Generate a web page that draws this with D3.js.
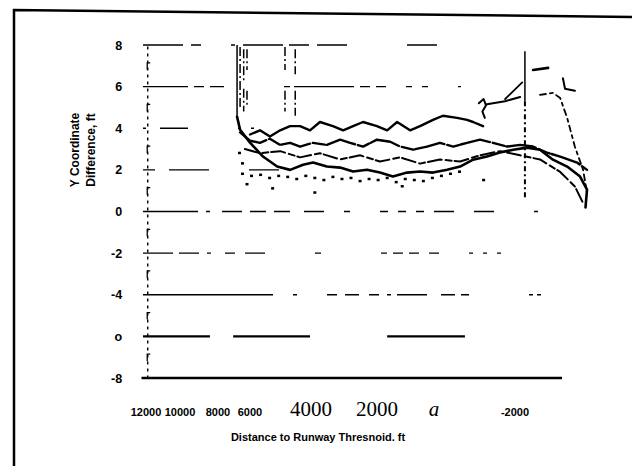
<!DOCTYPE html>
<html lang="en">
<head>
<meta charset="UTF-8" />
<title>Y coordinate difference vs distance to threshold</title>
<style>
  body { margin: 0; background: #fff; }
  svg { display: block; }
  .lbl { font-family: "Liberation Sans", Arial, sans-serif; font-weight: bold; fill: #000; }
  .serif { font-family: "Liberation Serif", "DejaVu Serif", serif; fill: #000; }
  .trace { fill: none; stroke: #000; stroke-linejoin: round; stroke-linecap: round; }
</style>
</head>
<body>
<svg width="632" height="466"></svg>
<script src="https://d3js.org/d3.v7.min.js"></script>
<script>
// y ticks and labels
const yTicks = [8, 6, 4, 2, 0, -2, -4, -6, -8];
const yTickText = ["8", "6", "4", "2", "0", "-2", "-4", "o", "-8"];
const yMinor = [7, 5, 3, 1, -1, -3, -5, -7];

// x tick labels (as printed)
const xTicks = [12000, 10000, 8000, 6000, 4000, 2000, 0, -2000];
const xTickText = ["12000", "10000", "8000", "6000", "4000", "2000", "a", "-2000"];

// traces: [distance ft, y diff ft]
const upper = [[8350,3.7],[8020,3.9],[7690,3.6],[7350,3.9],[7020,4.1],[6690,4.1],[6360,3.9],[6030,4.3],
  [5600,4.1],[5260,3.9],[4930,4.1],[4600,4.3],[4140,4.1],[3800,3.9],[3470,4.3],[3040,3.9],[2710,4.1],
  [2280,4.4],[1950,4.6],[1480,4.5],[1150,4.4],[950,4.3],[620,4.1]];
const curl = [[760,5.2],[600,5.4],[520,5.1],[640,4.8],[560,4.5]];
const riseA = [[490,5.15],[-110,5.3],[-610,5.5]];
const riseB = [[-110,5.4],[-680,6.2]];
const topBar = [[-1040,6.8],[-1540,6.9]];
const hook = [[-2030,6.4],[-2100,5.9],[-2430,5.8]];
const rightUpper = [[-1270,5.6],[-1700,5.7],[-1940,5.45],[-2170,4.5],[-2430,3.1],[-2700,2.0],[-2830,0.9]];

const second = [[8680,3.8],[8350,3.4],[8020,3.3],[7690,3.5],[7350,3.2],[7020,3.3],[6690,3.12],[6260,3.3],
  [5800,3.2],[5360,3.45],[5030,3.3],[4600,3.12],[4140,3.45],[3700,3.35],[3370,3.12],[2940,2.97],[2480,3.12],
  [2050,3.3],[1610,3.12],[1150,3.3],[720,3.45],[290,3.3],[-180,3.12],[-610,3.2],[-1040,3.12],[-1500,2.83],
  [-1940,2.64],[-2500,2.35],[-2830,2.0]];

const lower = [[8780,4.56],[8680,3.93],[8350,3.31],[7920,2.64],[7450,2.16],[7020,2.0],[6590,2.25],[6260,2.35],
  [5800,2.16],[5360,2.11],[4930,1.92],[4470,2.01],[4040,1.87],[3610,1.68],[3140,1.87],[2710,1.92],[2280,1.87],
  [1810,2.01],[1380,2.16],[950,2.49],[490,2.64],[60,2.83],[-380,2.97],[-840,3.07],[-1270,2.97],[-1700,2.49],
  [-2170,2.16],[-2600,1.68],[-2830,1.05],[-2780,0.2]];

const middle = [[8520,3.0],[8020,2.8],[7350,2.9],[6690,2.6],[6030,2.8],[5360,2.5],[4700,2.7],[4040,2.4],
  [3370,2.6],[2710,2.3],[2050,2.5],[1380,2.4],[720,2.7],[60,2.9],[-610,2.7],[-1270,2.5],[-1940,1.9],
  [-2430,1.2],[-2700,0.4]];

const dots = [[8600,1.8],[8300,1.7],[8000,1.75],[7700,1.6],[7400,1.7],[7100,1.65],[6800,1.55],[6500,1.7],
  [6200,1.6],[5900,1.5],[5600,1.65],[5300,1.55],[5000,1.6],[4700,1.45],[4400,1.55],[4100,1.5],[3800,1.6],
  [3500,1.4],[3200,1.55],[2900,1.5],[2600,1.45],[2300,1.6],[2000,1.7],[1700,1.8],[1400,1.9],
  [8700,2.8],[8600,2.3],[8450,1.3],[7600,1.1],[6200,0.9],[3300,1.2],[600,1.5]];

// vertical strokes: [distance, yTop, yBottom]
const vStrokes = [[8780,8,4.6],[8680,7.9,5.0],[8560,7.8,6.3],[8560,5.9,4.8],[8450,7.8,6.8],[8450,5.8,5.0],
  [7190,7.9,6.8],[7190,5.8,4.8],[6850,7.8,6.6],[6850,5.8,4.6],[-770,7.7,5.3]];
const vDashed = [[-770,5.3,0.6]];

// solid segments on the -6 line: [from, to]
const negSixSegs = [[11900,9680],[8910,6360],[3800,1220]];

const svg = d3.select("svg");
const x = d3.scaleLinear().domain([12000, -2000]).range([140, 562]);
const y = d3.scaleLinear().domain([-8, 8]).range([378, 45]);
const xLabel = d3.scaleLinear()
  .domain([12000, 10000, 8000, 6000, 4000, 2000, 0, -2000])
  .range([146, 180, 218, 250, 311, 377, 434, 515]);

// frame
svg.append("path")
  .attr("d", "M14,466 L14,10 L632,17")
  .attr("fill", "none").attr("stroke", "#000").attr("stroke-width", 2.5);

// gridlines
const dashes = {
  "8": "40,8,10,30,4,8,40,6,20,8,30,60,30,600",
  "6": "45,6,10,6,14,60,6,4,60,6,10,6,10,20,6,10,6,30,3,600",
  "4": "3,14,28,50,3,10,3,30,3,600",
  "2": "12,14,40,40,30,600",
  "0": "55,8,4,12,20,8,16,8,16,14,20,20,6,30,8,10,8,10,8,10,20,20,20,40,4,600",
  "-2": "30,6,20,8,4,14,10,10,20,50,6,60,6,6,10,6,10,10,10,30,4,10,4,10,4,600",
  "-4": "130,20,4,30,10,8,14,10,10,8,4,6,30,14,14,6,8,60,4,4,4,600"
};
svg.append("g").selectAll("line")
  .data(yTicks.filter(d => d !== -8 && d !== -6))
  .join("line")
  .attr("x1", x(11900)).attr("x2", x(-2800))
  .attr("y1", d => y(d)).attr("y2", d => y(d))
  .attr("stroke", "#000").attr("stroke-width", 1.4)
  .attr("stroke-dasharray", d => dashes[String(d)]);

svg.append("g").selectAll("line")
  .data(negSixSegs)
  .join("line")
  .attr("x1", d => x(d[0])).attr("x2", d => x(d[1]))
  .attr("y1", y(-6)).attr("y2", y(-6))
  .attr("stroke", "#000").attr("stroke-width", 2.2);

// x axis baseline
svg.append("line")
  .attr("x1", x(11950)).attr("x2", x(-2000))
  .attr("y1", y(-8)).attr("y2", y(-8))
  .attr("stroke", "#000").attr("stroke-width", 2.5);

// left axis (dashed)
const yAxis = d3.axisLeft(y).tickValues(yTicks).tickSize(0).tickFormat((d, i) => yTickText[i]).tickPadding(25);
const ya = svg.append("g").attr("transform", `translate(${x(11760)},0)`).call(yAxis);
ya.select(".domain").attr("stroke-dasharray", "3,4").attr("stroke-width", 1.4);
ya.selectAll("text").attr("class", "lbl").style("font-size", "12.5px");
svg.append("g").selectAll("path")
  .data(yMinor)
  .join("path")
  .attr("d", d => `M${x(11760)},${y(d) + 4} L${x(11760)},${y(d) - 3} L${x(11760) + 3},${y(d) - 3}`)
  .attr("fill", "none").attr("stroke", "#000").attr("stroke-width", 1.3);

// x tick labels
svg.append("g").selectAll("text")
  .data(xTicks)
  .join("text")
  .attr("x", d => xLabel(d))
  .attr("y", 416)
  .attr("text-anchor", "middle")
  .attr("class", (d, i) => (i === 4 || i === 5 || i === 6) ? "serif" : "lbl")
  .style("font-size", (d, i) => (i === 4 || i === 5 || i === 6) ? "21px" : "11px")
  .style("font-style", (d, i) => i === 6 ? "italic" : "normal")
  .text((d, i) => xTickText[i]);

// axis titles
svg.append("text").attr("class", "lbl")
  .attr("x", 318).attr("y", 441).attr("text-anchor", "middle")
  .style("font-size", "11px")
  .text("Distance to Runway  Thresnoid.  ft");
svg.append("text").attr("class", "lbl")
  .attr("transform", "translate(79,150) rotate(-90)")
  .attr("text-anchor", "middle").style("font-size", "12px")
  .text("Y Coordinate");
svg.append("text").attr("class", "lbl")
  .attr("transform", "translate(95,150) rotate(-90)")
  .attr("text-anchor", "middle").style("font-size", "12px")
  .text("Difference, ft");

// traces
const line = d3.line().x(d => x(d[0])).y(d => y(d[1])).curve(d3.curveLinear);
const traces = [
  [upper, 2.4, null], [curl, 2, null], [riseA, 2, null], [riseB, 1.8, null], [topBar, 2.6, null],
  [hook, 2, null], [rightUpper, 1.8, "6,4,3,4"], [second, 2.4, "30,3,12,2"], [lower, 2.6, null],
  [middle, 2, "14,4,6,3"]
];
svg.append("g").selectAll("path")
  .data(traces)
  .join("path")
  .attr("class", "trace")
  .attr("d", d => line(d[0]))
  .attr("stroke-width", d => d[1])
  .attr("stroke-dasharray", d => d[2]);

svg.append("g").selectAll("rect")
  .data(dots)
  .join("rect")
  .attr("x", d => x(d[0]) - 1.5).attr("y", d => y(d[1]) - 1.5)
  .attr("width", 3).attr("height", 2.5).attr("fill", "#000");

svg.append("g").selectAll("line")
  .data(vStrokes)
  .join("line")
  .attr("x1", d => x(d[0])).attr("x2", d => x(d[0]))
  .attr("y1", d => y(d[1])).attr("y2", d => y(d[2]))
  .attr("stroke", "#000").attr("stroke-width", 1.5)
  .attr("stroke-dasharray", (d, i) => i === 0 || i === vStrokes.length - 1 ? null : "9,3,2,3");

svg.append("g").selectAll("line")
  .data(vDashed)
  .join("line")
  .attr("x1", d => x(d[0])).attr("x2", d => x(d[0]))
  .attr("y1", d => y(d[1])).attr("y2", d => y(d[2]))
  .attr("stroke", "#000").attr("stroke-width", 2)
  .attr("stroke-dasharray", "5,3,2,3");
</script>
</body>
</html>
